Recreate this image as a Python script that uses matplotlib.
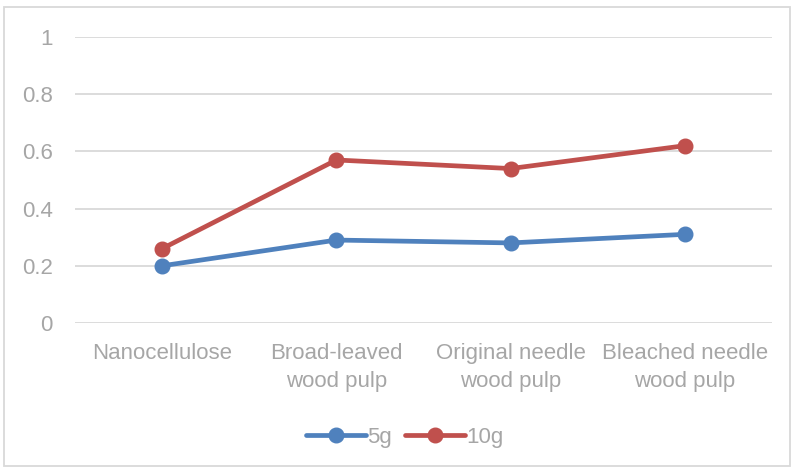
import matplotlib
matplotlib.use("Agg")
import matplotlib.pyplot as plt
from matplotlib.patches import Rectangle

categories = ["Nanocellulose", "Broad-leaved\nwood pulp", "Original needle\nwood pulp", "Bleached needle\nwood pulp"]
series_5g = [0.20, 0.29, 0.28, 0.31]
series_10g = [0.26, 0.57, 0.54, 0.62]
yticks = [0, 0.2, 0.4, 0.6, 0.8, 1]
ytick_labels = ["0", "0.2", "0.4", "0.6", "0.8", "1"]

plt.rcParams["font.family"] = ["Liberation Sans", "DejaVu Sans"]
text_color = "#A6A6A6"
grid_color = "#D9D9D9"

fig = plt.figure(figsize=(7.97, 4.72), dpi=100)
ax = fig.add_axes([75 / 797, 1 - 323 / 472, 697 / 797, 286 / 472])

x = list(range(len(categories)))
ax.plot(x, series_5g, color="#4F81BD", lw=3.4, marker="o", ms=10.5, label="5g", solid_capstyle="round")
ax.plot(x, series_10g, color="#C0504D", lw=3.4, marker="o", ms=10.5, label="10g", solid_capstyle="round")

ax.set_xlim(-0.5, len(categories) - 0.5)
ax.set_ylim(0, 1)
ax.set_yticks(yticks)
ax.set_yticklabels(ytick_labels)
ax.set_xticks(x)
ax.set_xticklabels(categories, linespacing=1.4)
ax.tick_params(axis="both", length=0, labelsize=16, colors=text_color)
ax.tick_params(axis="y", pad=16)
ax.tick_params(axis="x", pad=14.5)
for lbl in ax.get_yticklabels():
    lbl.set_color(text_color)
for lbl in ax.get_xticklabels():
    lbl.set_color(text_color)

for s in ax.spines.values():
    s.set_visible(False)
ax.yaxis.grid(True, color=grid_color, lw=1.3)
ax.set_axisbelow(True)

leg = fig.legend(loc="center", bbox_to_anchor=(405 / 797, 1 - 437 / 472), ncol=2, frameon=False,
                 fontsize=16, handlelength=2.7, handletextpad=0.05, columnspacing=0.6)
for t in leg.get_texts():
    t.set_color(text_color)

fig.patches.append(Rectangle((4 / 797, 6 / 472), 786 / 797, 459 / 472, transform=fig.transFigure,
                             fill=False, edgecolor=grid_color, lw=1.3))

fig.savefig("out.png", dpi=100)
